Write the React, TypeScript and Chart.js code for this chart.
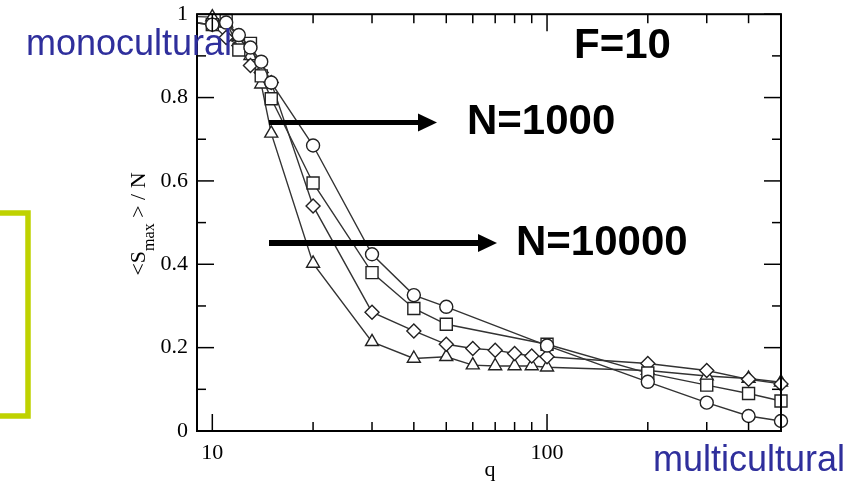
import React, { useEffect, useRef } from 'react';
import { Chart, registerables } from 'chart.js';

Chart.register(...registerables);

// ---- data ----
const qCoarse = [5, 10, 11, 12, 13, 14, 15, 20, 30, 40, 50, 100, 200, 300, 400, 500];
const qFine = [5, 10, 11, 12, 13, 14, 15, 20, 30, 40, 50, 60, 70, 80, 90, 100, 200, 300, 400, 500];

const circleValues = [1.0, 0.975, 0.98, 0.95, 0.92, 0.886, 0.836, 0.685, 0.424, 0.326, 0.298, 0.205, 0.118, 0.068, 0.036, 0.024];
const squareValues = [1.0, 0.975, 0.985, 0.914, 0.93, 0.852, 0.797, 0.595, 0.38, 0.294, 0.256, 0.208, 0.139, 0.11, 0.09, 0.072];
const diamondValues = [1.0, 0.975, 0.944, 0.925, 0.877, 0.86, 0.836, 0.54, 0.285, 0.24, 0.208, 0.198, 0.194, 0.186, 0.18, 0.178, 0.162, 0.145, 0.124, 0.113];
const triangleValues = [1.0, 0.993, 0.978, 0.946, 0.9, 0.832, 0.714, 0.402, 0.214, 0.174, 0.178, 0.158, 0.156, 0.156, 0.156, 0.153, 0.145, 0.132, 0.126, 0.117];

const xTickValues = [10, 20, 30, 40, 50, 60, 70, 80, 90, 100, 200, 300, 400, 500];
const xMajorValues = [10, 100];
const xTickLabels = ['10', '100'];
const yTickValues = [0, 0.2, 0.4, 0.6, 0.8, 1];
const yTickLabels = ['0', '0.2', '0.4', '0.6', '0.8', '1'];
const yMinorValues = [0.1, 0.3, 0.5, 0.7, 0.9];

const SERIF = '"Liberation Serif", "Times New Roman", serif';
const SANS = '"Liberation Sans", Arial, sans-serif';

function toPoints(xs: number[], ys: number[]) {
  return xs.map((x, i) => ({ x, y: ys[i] }));
}

const overlayPlugin = {
  id: 'overlay',
  afterDraw(chart: any) {
    const { ctx, chartArea: a, scales } = chart;
    const xs = scales.x;
    const ys = scales.y;
    ctx.save();
    // frame
    ctx.strokeStyle = '#000';
    ctx.lineWidth = 2;
    ctx.strokeRect(a.left, a.top, a.right - a.left, a.bottom - a.top);
    // inward ticks
    ctx.lineWidth = 1.5;
    const seg = (x1: number, y1: number, x2: number, y2: number) => {
      ctx.beginPath();
      ctx.moveTo(x1, y1);
      ctx.lineTo(x2, y2);
      ctx.stroke();
    };
    xTickValues.forEach((v) => {
      const px = xs.getPixelForValue(v);
      const len = xMajorValues.includes(v) ? 17 : 9;
      seg(px, a.bottom, px, a.bottom - len);
      seg(px, a.top, px, a.top + len);
    });
    yTickValues.forEach((v) => {
      const py = ys.getPixelForValue(v);
      seg(a.left, py, a.left + 17, py);
      seg(a.right, py, a.right - 17, py);
    });
    yMinorValues.forEach((v) => {
      const py = ys.getPixelForValue(v);
      seg(a.left, py, a.left + 9, py);
      seg(a.right, py, a.right - 9, py);
    });

    // y axis title <S_max> / N
    ctx.fillStyle = '#000';
    ctx.textBaseline = 'alphabetic';
    ctx.textAlign = 'left';
    const mainFont = '22px ' + SERIF;
    const subFont = '16px ' + SERIF;
    ctx.font = mainFont;
    const w1 = ctx.measureText('<S').width;
    const w3 = ctx.measureText(' > / N').width;
    ctx.font = subFont;
    const w2 = ctx.measureText('max').width;
    const total = w1 + w2 + w3;
    ctx.save();
    ctx.translate(145, 224);
    ctx.rotate(-Math.PI / 2);
    let cx = -total / 2;
    ctx.font = mainFont;
    ctx.fillText('<S', cx, 0);
    cx += w1;
    ctx.font = subFont;
    ctx.fillText('max', cx, 9);
    cx += w2;
    ctx.font = mainFont;
    ctx.fillText(' > / N', cx, 0);
    ctx.restore();

    // x axis title
    ctx.font = '22px ' + SERIF;
    ctx.textAlign = 'center';
    ctx.fillText('q', 490, 476);

    // annotations
    ctx.textAlign = 'left';
    ctx.fillStyle = '#2f2f9c';
    ctx.font = '36px ' + SANS;
    ctx.fillText('monocultural', 26, 55);
    ctx.fillText('multicultural', 653, 471);

    ctx.fillStyle = '#000';
    ctx.font = 'bold 42px ' + SANS;
    ctx.fillText('F=10', 574, 58);
    ctx.fillText('N=1000', 467, 134);
    ctx.fillText('N=10000', 516, 255);

    // arrows
    const arrow = (x1: number, x2: number, y: number, thick: number) => {
      const headLen = 19;
      const headHalf = 9;
      ctx.fillRect(x1, y - thick / 2, x2 - headLen - x1 + 1, thick);
      ctx.beginPath();
      ctx.moveTo(x2, y);
      ctx.lineTo(x2 - headLen, y - headHalf);
      ctx.lineTo(x2 - headLen, y + headHalf);
      ctx.closePath();
      ctx.fill();
    };
    arrow(269, 437, 122.5, 5);
    arrow(269, 497, 243, 6);

    // yellow-green bracket
    ctx.strokeStyle = '#bfd200';
    ctx.lineWidth = 5.5;
    ctx.lineJoin = 'miter';
    ctx.beginPath();
    ctx.moveTo(0, 213);
    ctx.lineTo(28, 213);
    ctx.lineTo(28, 416);
    ctx.lineTo(0, 416);
    ctx.stroke();

    ctx.restore();
  },
};

export default function App() {
  const canvasRef = useRef<HTMLCanvasElement | null>(null);

  useEffect(() => {
    const canvas = canvasRef.current;
    if (!canvas) return;
    const radiusFor = (r: number) => (c: any) => (c.raw && c.raw.x < 9 ? 0 : r);
    const common = {
      borderColor: '#333',
      borderWidth: 1.4,
      pointBackgroundColor: '#fff',
      pointBorderColor: '#222',
      pointBorderWidth: 1.4,
      tension: 0,
      fill: false,
      clip: { left: 0, top: 12, right: 12, bottom: 0 },
    };
    const chart = new Chart(canvas, {
      type: 'line',
      data: {
        datasets: [
          { ...common, label: 'circle', data: toPoints(qCoarse, circleValues), pointStyle: 'circle', pointRadius: radiusFor(6.5) },
          { ...common, label: 'square', data: toPoints(qCoarse, squareValues), pointStyle: 'rect', pointRadius: radiusFor(8.5) },
          { ...common, label: 'diamond', data: toPoints(qFine, diamondValues), pointStyle: 'rectRot', pointRadius: radiusFor(7) },
          { ...common, label: 'triangle', data: toPoints(qFine, triangleValues), pointStyle: 'triangle', pointRadius: radiusFor(7.5) },
        ] as any,
      },
      options: {
        animation: false,
        responsive: false,
        events: [],
        layout: { padding: { left: 0, top: 14, right: 86, bottom: 0 } },
        plugins: {
          legend: { display: false },
          tooltip: { enabled: false },
          title: { display: false },
        },
        scales: {
          x: {
            type: 'logarithmic',
            min: 9,
            max: 500,
            grid: { display: false },
            border: { display: false },
            afterBuildTicks: (scale: any) => {
              scale.ticks = xTickValues.map((value) => ({ value }));
            },
            afterFit: (scale: any) => {
              scale.height = 52;
            },
            ticks: {
              autoSkip: false,
              maxRotation: 0,
              padding: 1,
              color: '#000',
              font: { family: SERIF, size: 22 },
              callback: (value: any) => {
                const i = xMajorValues.indexOf(Number(value));
                return i >= 0 ? xTickLabels[i] : '';
              },
            },
          },
          y: {
            type: 'linear',
            min: 0,
            max: 1,
            grid: { display: false },
            border: { display: false },
            afterBuildTicks: (scale: any) => {
              scale.ticks = yTickValues.map((value) => ({ value }));
            },
            afterFit: (scale: any) => {
              scale.width = 197;
            },
            ticks: {
              padding: 1,
              color: '#000',
              font: { family: SERIF, size: 22 },
              callback: (_value: any, index: number) => yTickLabels[index],
            },
          },
        },
      } as any,
      plugins: [overlayPlugin],
    });
    return () => chart.destroy();
  }, []);

  return (
    <div style={{ position: 'absolute', left: 0, top: 0, width: 867, height: 483, background: '#fff' }}>
      <canvas ref={canvasRef} width={867} height={483} />
    </div>
  );
}
